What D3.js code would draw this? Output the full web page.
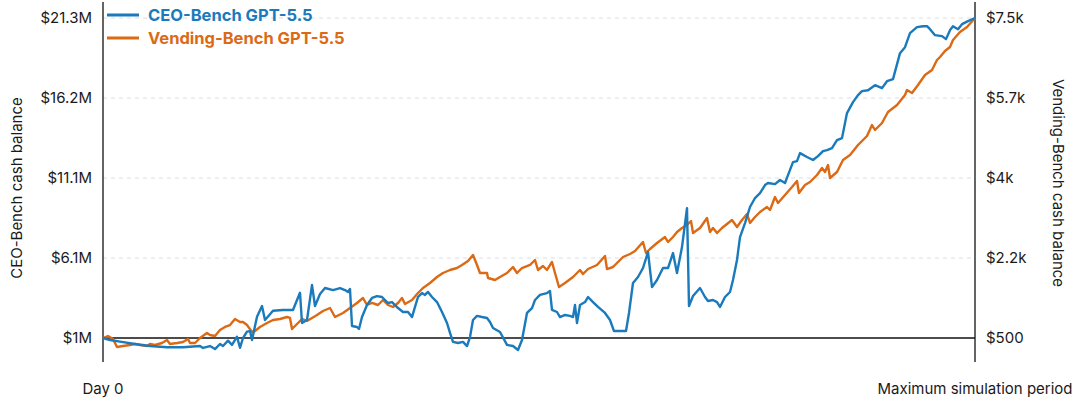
<!DOCTYPE html>
<html>
<head>
<meta charset="utf-8">
<script src="https://cdn.jsdelivr.net/npm/d3@7"></script>
<style>
  body { margin: 0; background: #fff; }
  svg { display: block; font-family: Inter, "Noto Sans", sans-serif; }
</style>
</head>
<body>
<svg class="line-chart" width="1078" height="402"></svg>
<script>
// CEO-Bench cash balance, millions of dollars, by simulation step
const ceoSeries = [
  [0,1.00],[7,0.87],[17,0.77],[32,0.62],[47,0.49],[64,0.41],[80,0.41],[97,0.49],[100,0.37],[107,0.49],
  [112,0.30],[117,0.62],[120,0.49],[125,0.83],[129,0.56],[134,1.08],[137,0.38],[140,1.00],[144,1.40],[147,1.44],
  [149,0.87],[154,2.35],[159,3.03],[162,2.14],[170,2.73],[180,2.78],[190,2.78],[192,3.09],[197,3.87],[199,1.95],
  [204,2.14],[209,4.36],[212,3.03],[217,3.79],[222,4.17],[230,4.04],[237,4.17],[242,4.04],[245,3.92],[247,4.11],
  [249,1.76],[254,1.70],[256,1.57],[259,2.33],[264,3.09],[269,3.54],[274,3.66],[279,3.60],[282,3.41],[285,3.22],
  [289,3.28],[292,3.09],[295,2.90],[300,2.65],[305,2.65],[309,2.33],[312,2.97],[315,3.60],[319,3.85],[322,3.73],
  [325,3.92],[329,3.60],[334,3.28],[339,2.65],[344,1.95],[347,1.32],[350,0.75],[355,0.68],[360,0.75],[364,0.49],
  [367,1.06],[370,2.14],[374,2.40],[379,2.33],[384,2.27],[387,2.01],[390,1.63],[397,1.38],[404,0.56],[410,0.49],
  [415,0.24],[419,0.87],[424,2.59],[429,2.90],[432,3.41],[437,3.73],[444,3.85],[447,3.98],[449,2.78],[454,2.65],
  [457,2.33],[462,2.46],[467,2.40],[470,2.33],[472,3.09],[474,1.95],[477,3.09],[482,3.28],[485,3.60],[490,3.28],
  [495,2.97],[502,2.59],[507,2.14],[511,1.44],[517,1.44],[523,1.44],[526,2.59],[530,4.49],[535,4.87],[540,5.44],
  [545,6.45],[549,4.23],[554,4.68],[560,5.44],[565,5.44],[570,6.39],[574,5.12],[579,6.77],[584,9.24],[586,3.03],
  [590,3.66],[597,4.17],[602,3.60],[605,3.35],[610,3.41],[614,3.28],[617,2.97],[622,3.60],[627,3.92],[630,4.68],
  [634,5.95],[637,7.40],[642,8.29],[647,9.31],[652,9.88],[657,10.19],[662,10.70],[665,10.83],[672,10.76],[677,11.02],
  [682,10.83],[685,11.33],[690,12.16],[694,12.22],[697,12.73],[704,12.48],[710,12.29],[715,12.54],[720,12.86],[724,12.92],
  [729,13.05],[734,13.55],[739,13.68],[744,15.27],[750,15.96],[755,16.41],[759,16.66],[765,16.72],[772,17.04],[779,16.85],
  [784,17.29],[790,17.42],[797,19.07],[802,19.45],[807,20.34],[814,20.72],[820,20.78],[824,20.78],[827,20.59],[832,20.21],
  [839,20.15],[843,19.96],[847,20.53],[850,20.78],[855,20.59],[859,20.91],[865,21.10],[872,21.30]
];

// Vending-Bench cash balance, dollars, by simulation step
const vendingSeries = [
  [0,500],[5,544],[10,478],[14,303],[20,325],[27,347],[32,369],[37,347],[44,325],[47,369],
  [52,347],[59,391],[64,456],[67,369],[74,391],[80,413],[85,478],[87,391],[92,391],[97,500],
  [104,609],[107,566],[112,544],[117,675],[122,741],[127,784],[132,916],[137,850],[140,850],[144,784],
  [149,631],[152,653],[157,741],[164,828],[170,894],[177,916],[184,959],[187,938],[189,697],[194,806],
  [199,916],[204,872],[214,1003],[220,1091],[227,1156],[232,959],[240,1047],[247,1156],[254,1266],[260,1375],
  [264,1222],[269,1266],[275,1222],[280,1331],[285,1222],[290,1178],[295,1266],[299,1375],[302,1244],[309,1331],
  [315,1484],[320,1594],[327,1703],[334,1834],[340,1922],[347,1988],[354,2031],[359,2097],[365,2184],[370,2316],
  [374,2097],[377,1922],[384,1922],[385,1813],[392,1769],[397,1834],[404,1922],[410,2053],[414,1922],[419,2031],
  [427,2097],[432,2206],[435,1988],[440,2075],[444,1988],[449,2163],[452,1922],[456,1616],[462,1703],[470,1834],
  [477,1988],[480,1900],[485,2009],[494,2097],[502,2294],[504,2009],[510,2053],[520,2272],[527,2338],[532,2403],
  [540,2600],[543,2359],[547,2447],[554,2578],[562,2709],[565,2600],[570,2709],[574,2819],[579,2906],[584,2972],
  [588,3059],[590,2797],[597,2906],[604,3125],[607,2819],[610,2906],[614,2797],[619,2906],[624,2994],[629,3081],
  [634,2928],[639,3081],[644,3213],[647,3016],[652,3147],[657,3256],[664,3366],[667,3300],[672,3584],[675,3453],
  [682,3628],[689,3803],[694,3934],[696,3672],[702,3847],[707,3913],[714,4066],[719,4219],[722,4131],[725,4284],
  [727,4000],[734,4131],[740,4394],[747,4503],[755,4722],[764,4919],[769,5159],[772,5050],[779,5203],[785,5444],
  [794,5597],[802,5816],[804,5925],[809,5859],[815,6034],[822,6253],[829,6363],[834,6581],[837,6647],[842,6778],
  [847,6866],[850,7019],[857,7194],[864,7303],[872,7500]
];

// Tick values and labels
const leftTicks = [1, 6.075, 11.15, 16.225, 21.3];
const leftLabels = ['$1M', '$6.1M', '$11.1M', '$16.2M', '$21.3M'];
const rightTicks = [500, 2250, 4000, 5750, 7500];
const rightLabels = ['$500', '$2.2k', '$4k', '$5.7k', '$7.5k'];
const stepDomain = [0, 872];

const ceoColor = '#1a7abb';
const vendColor = '#dc6a15';

const svg = d3.select('.line-chart');
const margin = { top: 18, right: 103, bottom: 64, left: 103 };
const W = 1078, H = 402;
const x0 = margin.left, x1 = W - margin.right;
const yTop = margin.top, yBot = H - margin.bottom;

const xScale = d3.scaleLinear().domain(stepDomain).range([x0, x1]);
const yLeft = d3.scaleLinear().domain([leftTicks[0], leftTicks[4]]).range([yBot, yTop]);
const yRight = d3.scaleLinear().domain([rightTicks[0], rightTicks[4]]).range([yBot, yTop]);

// Gridlines (dashed) except baseline
svg.append('g')
  .selectAll('line')
  .data(leftTicks.slice(1))
  .join('line')
  .attr('x1', x0).attr('x2', x1)
  .attr('y1', d => yLeft(d)).attr('y2', d => yLeft(d))
  .attr('stroke', '#dcdde3')
  .attr('stroke-width', 1)
  .attr('stroke-dasharray', '4,4');

// Baseline
svg.append('line')
  .attr('x1', x0).attr('x2', x1)
  .attr('y1', yLeft(1)).attr('y2', yLeft(1))
  .attr('stroke', '#111').attr('stroke-width', 1.3);

// Left axis
const leftAxis = d3.axisLeft(yLeft)
  .tickValues(leftTicks)
  .tickFormat((d, i) => leftLabels[i])
  .tickSize(0)
  .tickPadding(11);
const gl = svg.append('g').attr('transform', `translate(${x0},0)`).call(leftAxis);
gl.select('.domain').remove();
gl.selectAll('text').attr('font-size', 15).attr('fill', '#1a1a1a').attr('font-family', 'Inter');

// Right axis
const rightAxis = d3.axisRight(yRight)
  .tickValues(rightTicks)
  .tickFormat((d, i) => rightLabels[i])
  .tickSize(0)
  .tickPadding(11);
const gr = svg.append('g').attr('transform', `translate(${x1},0)`).call(rightAxis);
gr.select('.domain').remove();
gr.selectAll('text').attr('font-size', 15).attr('fill', '#1a1a1a').attr('font-family', 'Inter');

// Vertical axis lines
[x0, x1].forEach(x => {
  svg.append('line')
    .attr('x1', x).attr('x2', x)
    .attr('y1', 2).attr('y2', 362)
    .attr('stroke', '#111').attr('stroke-width', 1.3);
});

// Lines
const lineL = d3.line().x(d => xScale(d[0])).y(d => yLeft(d[1]));
const lineR = d3.line().x(d => xScale(d[0])).y(d => yRight(d[1]));

svg.append('path')
  .datum(vendingSeries)
  .attr('fill', 'none')
  .attr('stroke', vendColor)
  .attr('stroke-width', 2.4)
  .attr('stroke-linejoin', 'round')
  .attr('d', lineR);

svg.append('path')
  .datum(ceoSeries)
  .attr('fill', 'none')
  .attr('stroke', ceoColor)
  .attr('stroke-width', 2.4)
  .attr('stroke-linejoin', 'round')
  .attr('d', lineL);

// X labels
svg.append('text')
  .attr('x', x0).attr('y', 394)
  .attr('text-anchor', 'middle')
  .attr('font-size', 15).attr('fill', '#1a1a1a')
  .text('Day 0');
svg.append('text')
  .attr('x', x1).attr('y', 394)
  .attr('text-anchor', 'middle')
  .attr('font-size', 15).attr('fill', '#1a1a1a')
  .text('Maximum simulation period');

// Axis titles
svg.append('text')
  .attr('transform', 'translate(22,188) rotate(-90)')
  .attr('text-anchor', 'middle')
  .attr('font-size', 15).attr('fill', '#1a1a1a')
  .text('CEO-Bench cash balance');
svg.append('text')
  .attr('transform', 'translate(1053,183) rotate(90)')
  .attr('text-anchor', 'middle')
  .attr('font-size', 15).attr('fill', '#1a1a1a')
  .text('Vending-Bench cash balance');

// Legend
const legend = [
  { label: 'CEO-Bench GPT-5.5', color: ceoColor, y: 15 },
  { label: 'Vending-Bench GPT-5.5', color: vendColor, y: 38 }
];
const lg = svg.append('g');
legend.forEach(d => {
  lg.append('rect')
    .attr('x', 107).attr('y', d.y - 1.5)
    .attr('width', 32).attr('height', 3)
    .attr('fill', d.color);
  lg.append('text')
    .attr('x', 148).attr('y', d.y + 6)
    .attr('font-size', 16.5).attr('font-weight', 700)
    .attr('fill', d.color)
    .text(d.label);
});
</script>
</body>
</html>
